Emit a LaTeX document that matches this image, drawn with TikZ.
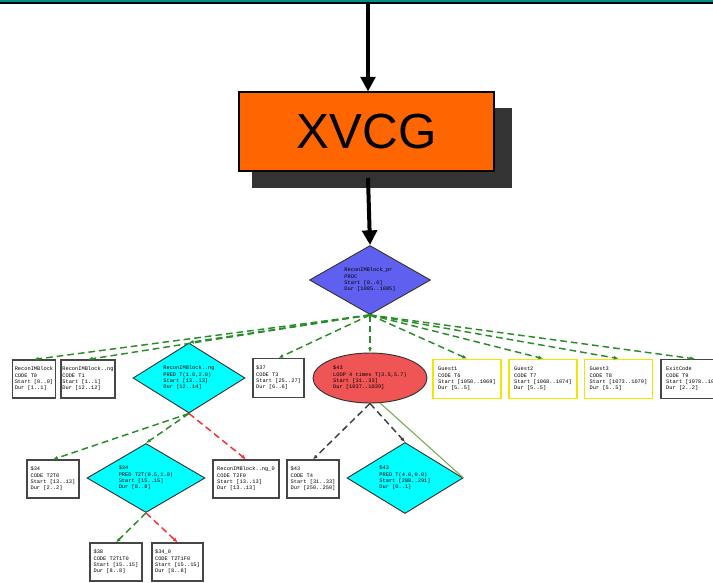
\documentclass[tikz,border=0pt]{standalone}
\usepackage{fontspec}
\setmainfont{Liberation Sans}
\newfontfamily\nodemono{Liberation Mono}
\usetikzlibrary{arrows.meta,shapes.geometric}

\definecolor{bandteal}{RGB}{0,140,140}
\definecolor{xvcgorange}{RGB}{255,102,0}
\definecolor{shadowgrey}{RGB}{51,51,51}
\definecolor{procblue}{RGB}{96,96,240}
\definecolor{predcyan}{RGB}{0,255,255}
\definecolor{loopred}{RGB}{240,85,85}
\definecolor{guestyellow}{RGB}{240,230,0}
\definecolor{boxgrey}{RGB}{70,70,70}
\definecolor{edgegreen}{RGB}{40,140,40}
\definecolor{edgered}{RGB}{240,50,50}
\definecolor{backgreen}{RGB}{120,170,80}

\begin{document}
\begin{tikzpicture}[x=0.75pt,y=-0.75pt,
  sz/.style 2 args={minimum width=#1*0.75pt, minimum height=#2*0.75pt},
  info/.style={font=\nodemono\fontsize{4}{4.7}\selectfont, align=left, inner sep=1pt},
  task/.style={info, rectangle, draw=boxgrey, line width=0.9pt, fill=white},
  guest/.style={task, draw=guestyellow, line width=1.4pt},
  pred/.style={info, diamond, inner sep=0pt, draw=black!80, fill=predcyan, line width=0.7pt},
  proc/.style={pred, fill=procblue},
  loop/.style={info, ellipse, inner sep=0pt, draw=black!80, fill=loopred, line width=0.7pt},
  treeedge/.style={line width=1.1pt, dash pattern=on 5pt off 3pt,
    -{Latex[length=3.5pt,width=3pt]}},
  greenedge/.style={treeedge, draw=edgegreen},
  rededge/.style={treeedge, draw=edgered},
  blackedge/.style={treeedge, draw=black!75},
  flow/.style={line width=3pt, -{Triangle[length=11pt,width=11pt]}}]

\useasboundingbox (0,0) rectangle (713,582);
\clip (0,0) rectangle (713,582);

% header band
\fill[bandteal] (0,0) rectangle (713,2.2);
\fill[black] (0,2.2) rectangle (713,4);

% XVCG tool box with its drop shadow
\fill[shadowgrey] (252,108) rectangle (512,188);
\node[draw=black, line width=0.8pt, fill=xvcgorange, sz={255}{79}, inner sep=0pt,
      font=\fontsize{37}{40}\selectfont] (xvcg) at (366.5,131.5) {XVCG};
\coordinate (feed) at (368,4);
\draw[flow] (feed) -- (xvcg.north -| feed);

% procedure node
\node[proc, sz={121}{69}, aspect=1.7] (root) at (370,280)
  {ReconIMBlock\_pr\\PROC\\Start [0..0]\\Dur [1085..1085]};
\coordinate (xvcgout) at (368,178);
\draw[flow] (xvcgout) -- (root.north);

% first level
\node[task, sz={43}{38}] (t0) at (34,379) {ReconIMBlock\\CODE T0\\Start [0..0]\\Dur [1..1]};
\node[task, sz={45}{38}] (t1) at (88,379) {ReconIMBlock..ng\\CODE T1\\Start [1..1]\\Dur [12..12]};
\node[pred, sz={112}{70}, aspect=1.6] (p1) at (189,378)
  {ReconIMBlock..ng\\PRED T(1.0,2.0)\\Start [13..13]\\Dur [12..14]};
\node[task, sz={51}{39}] (t3) at (278.5,378) {\$37\\CODE T3\\Start [25..27]\\Dur [6..6]};
\node[loop, sz={114}{50}] (lp) at (370,378)
  {\$43\\LOOP 4 times T(3.5,5.7)\\Start [31..33]\\Dur [1037..1039]};
\node[guest, sz={68}{39}] (g1) at (467,379) {Guest1\\CODE T6\\Start [1050..1069]\\Dur [5..5]};
\node[guest, sz={68}{39}] (g2) at (543,379) {Guest2\\CODE T7\\Start [1068..1074]\\Dur [5..5]};
\node[guest, sz={68}{39}] (g3) at (618.5,379) {Guest3\\CODE T8\\Start [1073..1079]\\Dur [5..5]};
\node[task, sz={68}{39}] (ex) at (695,379) {ExitCode\\CODE T9\\Start [1078..1080]\\Dur [2..2]};

\foreach \n in {t0,t1,p1,t3,lp,g1,g2,g3,ex}
  \draw[greenedge] (root.south) -- (\n.north);

% second level
\node[task, sz={52}{38}] (t20) at (53,479) {\$34\\CODE T2T0\\Start [13..13]\\Dur [2..2]};
\node[pred, sz={118}{69}, aspect=1.7] (p2) at (146,478)
  {\$34\\PRED T2T(0.5,1.0)\\Start [15..15]\\Dur [8..8]};
\node[task, sz={66}{38}] (tf0) at (246,479) {ReconIMBlock..ng\_0\\CODE T2F0\\Start [13..13]\\Dur [13..13]};
\node[task, sz={52}{38}] (t4) at (313,479) {\$43\\CODE T4\\Start [31..33]\\Dur [250..250]};
\node[pred, sz={116}{71}, aspect=1.6] (p3) at (405,478)
  {\$43\\PRED T(4.0,0.0)\\Start [288..291]\\Dur [0..1]};

\draw[greenedge] (p1.south) -- (t20.north);
\draw[greenedge] (p1.south) -- (p2.north);
\draw[rededge] (p1.south) -- (tf0.north);
\draw[blackedge] (lp.south) -- (t4.north);
\draw[blackedge] (lp.south) -- (p3.north);
\draw[backgreen, line width=0.8pt] (lp.-68) -- (p3.east);

% third level
\node[task, sz={52}{38}] (t210) at (116,562) {\$38\\CODE T2T1T0\\Start [15..15]\\Dur [8..8]};
\node[task, sz={51}{38}] (t211) at (177.5,562) {\$34\_0\\CODE T2T1F0\\Start [15..15]\\Dur [8..8]};

\draw[greenedge] (p2.south) -- (t210.north);
\draw[rededge] (p2.south) -- (t211.north);
\end{tikzpicture}
\end{document}
